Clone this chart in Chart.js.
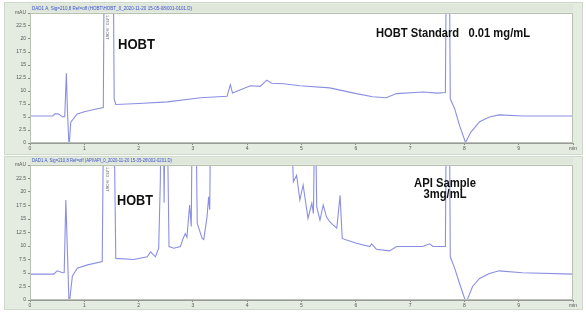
<!DOCTYPE html>
<html>
<head>
<meta charset="utf-8">
<script src="https://cdn.jsdelivr.net/npm/chart.js@4.4.1/dist/chart.umd.min.js"></script>
<style>
  body { margin: 0; background: #fff; }
  .panel { position: absolute; left: 4px; width: 579px; background: #e4ebe0; border: 1px solid #cfd9cb; box-sizing: border-box; }
  #p1 { top: 2px; height: 153px; }
  #p2 { top: 156px; height: 154px; }
</style>
</head>
<body>
<div class="panel" id="p1"><canvas id="chartStd"></canvas></div>
<div class="panel" id="p2"><canvas id="chartApi"></canvas></div>
<script>
// retention time (min) and detector signal (mAU)
// values of 40 are off scale (clipped at the top), -1 dips below the axis
const timeStd = [0, 0.42, 0.46, 0.52, 0.6, 0.64, 0.67, 0.69, 0.72, 0.75, 0.87, 1.0, 1.2, 1.35, 1.37, 1.53, 1.55, 1.58, 2.0, 2.53,
  3.14, 3.63, 3.67, 3.69, 3.73, 4.06, 4.24, 4.36, 4.45, 4.67, 4.97, 5.52, 6.01, 6.31, 6.56, 6.75, 7.24, 7.5, 7.65, 7.67,
  7.72, 7.74, 7.82, 7.91, 8.02, 8.12, 8.28, 8.46, 8.64, 9.07, 10];
const signalStd = [5.2, 5.2, 5.6, 5.6, 5.0, 5.1, 13.4, 6, -1, 4.0, 5.6, 6.0, 6.5, 6.8, 40, 40, 8.5, 7.4, 7.6, 7.9,
  8.7, 9.0, 10.5, 11.2, 9.6, 11.0, 10.9, 12.1, 11.5, 11.4, 11.0, 10.6, 9.5, 8.9, 8.7, 9.5, 9.8, 9.6, 9.7, 40,
  40, 8.5, 6.6, 3.4, 0.1, 2.1, 4.1, 5.0, 5.4, 5.2, 5.2];

const timeApi = [0, 0.44, 0.5, 0.6, 0.63, 0.66, 0.72, 0.78, 0.87, 1.06, 1.33, 1.36, 1.54, 1.58, 1.91, 2.16, 2.22, 2.31, 2.37, 2.40,
  2.42, 2.45, 2.47, 2.49, 2.52, 2.56, 2.65, 2.77, 2.82, 2.86, 2.89, 2.94, 2.97, 2.99, 3.05, 3.08, 3.17, 3.2, 3.26, 3.29,
  3.31, 3.33, 4.79, 4.85, 4.91, 4.97, 5.03, 5.12, 5.19, 5.22, 5.25, 5.28, 5.34, 5.40, 5.46, 5.52, 5.58, 5.65, 5.71, 5.75,
  5.83, 6.01, 6.26, 6.29, 6.38, 6.62, 6.75, 6.84, 7.23, 7.30, 7.36, 7.42, 7.65, 7.67, 7.72, 7.74, 7.82, 7.91, 8.03, 8.15,
  8.28, 8.46, 8.64, 9.07, 10];
const signalApi = [4.8, 4.8, 5.4, 5.05, 5.1, 18.5, -1, 4.4, 5.9, 6.5, 7.1, 40, 40, 7.7, 7.5, 8.0, 8.9, 8.0, 9.6, 22,
  40, 40, 18, 40, 40, 9.9, 9.6, 9.9, 11.4, 12.3, 11.6, 17.6, 13.6, 40, 40, 14.2, 11.4, 11.2, 15.4, 19.1,
  16.7, 40, 40, 21.9, 23.1, 18.5, 21.3, 15.1, 17.9, 16.0, 40, 17.3, 14.8, 17.6, 15.4, 14.5, 13.9, 13.3, 19.4, 11.4,
  11.1, 10.5, 9.9, 10.4, 9.4, 9.1, 9.9, 9.9, 9.9, 10.2, 10.4, 9.9, 9.9, 40, 40, 8.0, 5.9, 3.1, -0.5, 2.5,
  4.0, 4.9, 5.4, 5.05, 4.8];

const xTicks = [0, 1, 2, 3, 4, 5, 6, 7, 8, 9, 10];
const yMin = 0, yMax = 25, yStep = 2.5;

const headerStd = "DAD1 A, Sig=210,8 Ref=off (HOBT\\HOBT_0_2020-11-20 15-05-08\\001-0101.D)";
const headerApi = "DAD1 A, Sig=210,8 Ref=off (API\\API_0_2020-11-20 15-35-26\\002-0201.D)";
const rtLabel = "1.453 - HOBT";

const lineColor = "#8b8fe3";

// draw bold text squeezed into a given width
function fitText(ctx, txt, x, y, w, size, align) {
  ctx.save();
  ctx.font = "bold " + size + "px 'Liberation Sans', Arial, sans-serif";
  const m = ctx.measureText(txt).width;
  const s = w / m;
  ctx.translate(x, y);
  ctx.scale(s, 1);
  ctx.textAlign = align || "left";
  ctx.fillText(txt, 0, 0);
  ctx.restore();
}

function makeChart(id, times, signals, opts) {
  const pts = times.map((t, i) => ({ x: t, y: signals[i] }));
  const panelPlugin = {
    id: "panel",
    beforeDraw(chart) {
      const { ctx, chartArea: a } = chart;
      ctx.save();
      // header strip
      ctx.fillStyle = "#dfe7db";
      ctx.fillRect(a.left, 1, a.right - a.left, a.top - 2);
      ctx.fillStyle = "#ffffff";
      ctx.fillRect(a.left, a.top, a.right - a.left, a.bottom - a.top);
      ctx.fillStyle = "#3b4fd0";
      ctx.font = "5px 'Liberation Sans', Arial, sans-serif";
      ctx.save();
      const m = ctx.measureText(opts.header).width;
      ctx.translate(a.left + 2, a.top - 3);
      ctx.scale(opts.headerWidth / m, 1);
      ctx.fillText(opts.header, 0, 0);
      ctx.restore();
      ctx.restore();
    },
    afterDraw(chart) {
      const { ctx, chartArea: a, scales } = chart;
      ctx.save();
      ctx.strokeStyle = "#b7c2b3";
      ctx.lineWidth = 1;
      ctx.strokeRect(a.left + 0.5, a.top + 0.5, a.right - a.left - 1, a.bottom - a.top - 1);
      // retention time label beside the HOBT peak
      ctx.fillStyle = "#666";
      ctx.font = "4px 'Liberation Sans', Arial, sans-serif";
      ctx.translate(scales.x.getPixelForValue(1.4), a.top + 2);
      ctx.rotate(Math.PI / 2);
      ctx.fillText(rtLabel, 0, 0);
      ctx.restore();
      ctx.fillStyle = "#111";
      opts.notes.forEach(n => fitText(ctx, n.text, n.x, n.y, n.w, n.size, n.align));
    }
  };

  return new Chart(document.getElementById(id), {
    type: "line",
    data: {
      datasets: [{
        data: pts,
        borderColor: lineColor,
        borderWidth: 1.1,
        pointRadius: 0,
        tension: 0
      }]
    },
    options: {
      responsive: true,
      maintainAspectRatio: false,
      animation: false,
      layout: { padding: { left: 0, right: 9, top: opts.top, bottom: 0 } },
      plugins: { legend: { display: false }, tooltip: { enabled: false } },
      scales: {
        x: {
          type: "linear",
          min: xTicks[0],
          max: xTicks[xTicks.length - 1],
          afterFit(s) { s.height = opts.xh; },
          afterBuildTicks(s) { s.ticks = xTicks.map(v => ({ value: v })); },
          grid: { drawOnChartArea: false, tickLength: 2, color: "#888" },
          border: { color: "#999" },
          ticks: {
            font: { size: 5 },
            color: "#555",
            padding: 1,
            maxRotation: 0,
            callback: v => (v === 10 ? "min" : v)
          }
        },
        y: {
          min: yMin,
          max: yMax,
          afterFit(s) { s.width = 25; },
          grid: { drawOnChartArea: false, tickLength: 2, color: "#888" },
          border: { color: "#999" },
          ticks: {
            stepSize: yStep,
            font: { size: 5 },
            color: "#555",
            padding: 2,
            callback: v => (v === 25 ? "mAU" : v)
          }
        }
      }
    },
    plugins: [panelPlugin]
  });
}

makeChart("chartStd", timeStd, signalStd, {
  top: 10, xh: 11, header: headerStd, headerWidth: 160,
  notes: [
    { text: "HOBT", x: 113, y: 46, w: 37, size: 14 },
    { text: "HOBT Standard   0.01 mg/mL", x: 371, y: 34, w: 154, size: 12 }
  ]
});

makeChart("chartApi", timeApi, signalApi, {
  top: 8, xh: 9, header: headerApi, headerWidth: 140,
  notes: [
    { text: "HOBT", x: 112, y: 48, w: 36, size: 14 },
    { text: "API Sample", x: 440, y: 30, w: 62, size: 12, align: "center" },
    { text: "3mg/mL", x: 440, y: 41, w: 43, size: 12, align: "center" }
  ]
});
</script>
</body>
</html>
